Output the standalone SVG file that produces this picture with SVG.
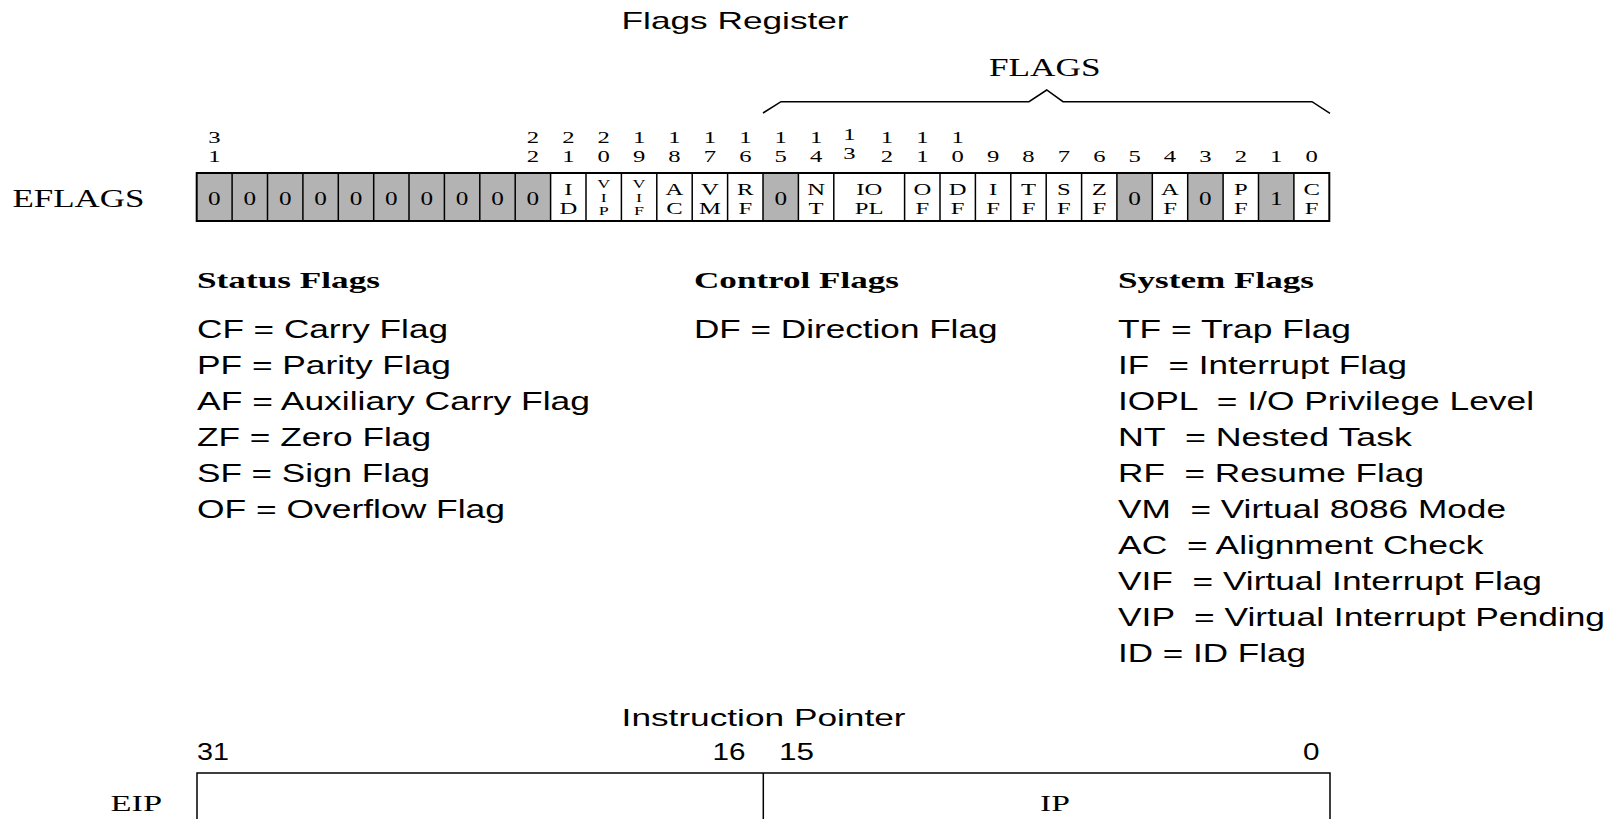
<svg xmlns="http://www.w3.org/2000/svg" width="1619" height="819" viewBox="0 0 1619 819">
<style>
.sans{font-family:"Liberation Sans",Arial,sans-serif;fill:#000}
.serif{font-family:"Liberation Serif","Times New Roman",serif;fill:#000}
.title{font-size:24px}
.list{font-size:25px;white-space:pre}
.head{font-size:24px;font-weight:bold}
.bit{font-size:17px;text-anchor:middle}
.cl{font-size:17px;text-anchor:middle}
.cs{font-size:12px;text-anchor:middle}
.zero{font-size:18px;text-anchor:middle}
.num{font-size:24px}
.gray{fill:#b3b3b3}
.div{stroke:#000;stroke-width:1.5;fill:none}
.outer{stroke:#000;stroke-width:2;fill:none}
.line{stroke:#000;stroke-width:1.5;fill:none}
</style>

<text class="sans title" x="621.6" y="29" textLength="227" lengthAdjust="spacingAndGlyphs">Flags Register</text>

<g id="flags-label">
<text class="serif" style="font-size:25px" x="989" y="76" textLength="111.5" lengthAdjust="spacingAndGlyphs">FLAGS</text>
</g>

<g id="connectors">
<path class="line" d="M763,113 L781,101.7 L1029,101.7 L1046.7,90 L1063,101.7 L1312,101.7 L1330,113.3"/>
</g>

<g id="eflags-label">
<text class="serif" style="font-size:26px" x="12.4" y="207" textLength="132" lengthAdjust="spacingAndGlyphs">EFLAGS</text>
</g>

<g id="bit-numbers" class="serif">
<text class="bit" transform="translate(214.4,142.5) scale(1.45,1)">3</text>
<text class="bit" transform="translate(214.4,161.5) scale(1.45,1)">1</text>
<text class="bit" transform="translate(532.9,142.5) scale(1.45,1)">2</text>
<text class="bit" transform="translate(532.9,161.5) scale(1.45,1)">2</text>
<text class="bit" transform="translate(568.3,142.5) scale(1.45,1)">2</text>
<text class="bit" transform="translate(568.3,161.5) scale(1.45,1)">1</text>
<text class="bit" transform="translate(603.7,142.5) scale(1.45,1)">2</text>
<text class="bit" transform="translate(603.7,161.5) scale(1.45,1)">0</text>
<text class="bit" transform="translate(639.1,142.5) scale(1.45,1)">1</text>
<text class="bit" transform="translate(639.1,161.5) scale(1.45,1)">9</text>
<text class="bit" transform="translate(674.5,142.5) scale(1.45,1)">1</text>
<text class="bit" transform="translate(674.5,161.5) scale(1.45,1)">8</text>
<text class="bit" transform="translate(709.9,142.5) scale(1.45,1)">1</text>
<text class="bit" transform="translate(709.9,161.5) scale(1.45,1)">7</text>
<text class="bit" transform="translate(745.3,142.5) scale(1.45,1)">1</text>
<text class="bit" transform="translate(745.3,161.5) scale(1.45,1)">6</text>
<text class="bit" transform="translate(780.7,142.5) scale(1.45,1)">1</text>
<text class="bit" transform="translate(780.7,161.5) scale(1.45,1)">5</text>
<text class="bit" transform="translate(816.1,142.5) scale(1.45,1)">1</text>
<text class="bit" transform="translate(816.1,161.5) scale(1.45,1)">4</text>
<text class="bit" transform="translate(849.5,140) scale(1.45,1)">1</text>
<text class="bit" transform="translate(849.5,159) scale(1.45,1)">3</text>
<text class="bit" transform="translate(886.9,142.5) scale(1.45,1)">1</text>
<text class="bit" transform="translate(886.9,161.5) scale(1.45,1)">2</text>
<text class="bit" transform="translate(922.3,142.5) scale(1.45,1)">1</text>
<text class="bit" transform="translate(922.3,161.5) scale(1.45,1)">1</text>
<text class="bit" transform="translate(957.7,142.5) scale(1.45,1)">1</text>
<text class="bit" transform="translate(957.7,161.5) scale(1.45,1)">0</text>
<text class="bit" transform="translate(993.1,161.5) scale(1.45,1)">9</text>
<text class="bit" transform="translate(1028.5,161.5) scale(1.45,1)">8</text>
<text class="bit" transform="translate(1063.9,161.5) scale(1.45,1)">7</text>
<text class="bit" transform="translate(1099.3,161.5) scale(1.45,1)">6</text>
<text class="bit" transform="translate(1134.6,161.5) scale(1.45,1)">5</text>
<text class="bit" transform="translate(1170,161.5) scale(1.45,1)">4</text>
<text class="bit" transform="translate(1205.4,161.5) scale(1.45,1)">3</text>
<text class="bit" transform="translate(1240.8,161.5) scale(1.45,1)">2</text>
<text class="bit" transform="translate(1276.2,161.5) scale(1.45,1)">1</text>
<text class="bit" transform="translate(1311.6,161.5) scale(1.45,1)">0</text>
</g>

<g id="eflags-register">
<g id="reserved-31-22">
<rect class="gray" x="196.7" y="173" width="354" height="48"/>
</g>
<rect id="reserved-15" class="gray" x="763" y="173" width="35.4" height="48"/>
<rect id="reserved-5" class="gray" x="1116.9" y="173" width="35.4" height="48"/>
<rect id="reserved-3" class="gray" x="1187.7" y="173" width="35.4" height="48"/>
<rect id="reserved-1" class="gray" x="1258.5" y="173" width="35.4" height="48"/>
<path class="div" d="M232.1,173V221M267.5,173V221M302.9,173V221M338.3,173V221M373.7,173V221M409,173V221M444.4,173V221M479.8,173V221M515.2,173V221M550.6,173V221M586,173V221M621.4,173V221M656.8,173V221M692.2,173V221M727.6,173V221M763,173V221M798.4,173V221M833.8,173V221M904.6,173V221M940,173V221M975.4,173V221M1010.8,173V221M1046.2,173V221M1081.6,173V221M1116.9,173V221M1152.3,173V221M1187.7,173V221M1223.1,173V221M1258.5,173V221M1293.9,173V221"/>
<rect class="outer" x="196.7" y="173" width="1132.6" height="48"/>
<g class="serif">
<text class="zero" transform="translate(214.4,205) scale(1.4,1)">0</text>
<text class="zero" transform="translate(249.8,205) scale(1.4,1)">0</text>
<text class="zero" transform="translate(285.2,205) scale(1.4,1)">0</text>
<text class="zero" transform="translate(320.6,205) scale(1.4,1)">0</text>
<text class="zero" transform="translate(356,205) scale(1.4,1)">0</text>
<text class="zero" transform="translate(391.4,205) scale(1.4,1)">0</text>
<text class="zero" transform="translate(426.7,205) scale(1.4,1)">0</text>
<text class="zero" transform="translate(462.1,205) scale(1.4,1)">0</text>
<text class="zero" transform="translate(497.5,205) scale(1.4,1)">0</text>
<text class="zero" transform="translate(532.9,205) scale(1.4,1)">0</text>
</g>
<g id="cell-ID" class="serif"><text class="cl" transform="translate(568.3,194.5) scale(1.45,1)">I</text><text class="cl" transform="translate(568.3,214) scale(1.45,1)">D</text></g>
<g id="cell-VIP" class="serif"><text class="cs" transform="translate(603.7,188) scale(1.5,1)">V</text><text class="cs" transform="translate(603.7,201.5) scale(1.5,1)">I</text><text class="cs" transform="translate(603.7,215) scale(1.5,1)">P</text></g>
<g id="cell-VIF" class="serif"><text class="cs" transform="translate(639.1,188) scale(1.5,1)">V</text><text class="cs" transform="translate(639.1,201.5) scale(1.5,1)">I</text><text class="cs" transform="translate(639.1,215) scale(1.5,1)">F</text></g>
<g id="cell-AC" class="serif"><text class="cl" transform="translate(674.5,194.5) scale(1.45,1)">A</text><text class="cl" transform="translate(674.5,214) scale(1.45,1)">C</text></g>
<g id="cell-VM" class="serif"><text class="cl" transform="translate(709.9,194.5) scale(1.45,1)">V</text><text class="cl" transform="translate(709.9,214) scale(1.45,1)">M</text></g>
<g id="cell-RF" class="serif"><text class="cl" transform="translate(745.3,194.5) scale(1.45,1)">R</text><text class="cl" transform="translate(745.3,214) scale(1.45,1)">F</text></g>
<g id="cell-15" class="serif"><text class="zero" transform="translate(780.7,205) scale(1.4,1)">0</text></g>
<g id="cell-NT" class="serif"><text class="cl" transform="translate(816.1,194.5) scale(1.45,1)">N</text><text class="cl" transform="translate(816.1,214) scale(1.45,1)">T</text></g>
<g id="cell-IOPL" class="serif"><text class="cl" transform="translate(869.2,194.5) scale(1.45,1)">IO</text><text class="cl" transform="translate(869.2,214) scale(1.45,1)">PL</text></g>
<g id="cell-OF" class="serif"><text class="cl" transform="translate(922.3,194.5) scale(1.45,1)">O</text><text class="cl" transform="translate(922.3,214) scale(1.45,1)">F</text></g>
<g id="cell-DF" class="serif"><text class="cl" transform="translate(957.7,194.5) scale(1.45,1)">D</text><text class="cl" transform="translate(957.7,214) scale(1.45,1)">F</text></g>
<g id="cell-IF" class="serif"><text class="cl" transform="translate(993.1,194.5) scale(1.45,1)">I</text><text class="cl" transform="translate(993.1,214) scale(1.45,1)">F</text></g>
<g id="cell-TF" class="serif"><text class="cl" transform="translate(1028.5,194.5) scale(1.45,1)">T</text><text class="cl" transform="translate(1028.5,214) scale(1.45,1)">F</text></g>
<g id="cell-SF" class="serif"><text class="cl" transform="translate(1063.9,194.5) scale(1.45,1)">S</text><text class="cl" transform="translate(1063.9,214) scale(1.45,1)">F</text></g>
<g id="cell-ZF" class="serif"><text class="cl" transform="translate(1099.3,194.5) scale(1.45,1)">Z</text><text class="cl" transform="translate(1099.3,214) scale(1.45,1)">F</text></g>
<g id="cell-5" class="serif"><text class="zero" transform="translate(1134.6,205) scale(1.4,1)">0</text></g>
<g id="cell-AF" class="serif"><text class="cl" transform="translate(1170,194.5) scale(1.45,1)">A</text><text class="cl" transform="translate(1170,214) scale(1.45,1)">F</text></g>
<g id="cell-3" class="serif"><text class="zero" transform="translate(1205.4,205) scale(1.4,1)">0</text></g>
<g id="cell-PF" class="serif"><text class="cl" transform="translate(1240.8,194.5) scale(1.45,1)">P</text><text class="cl" transform="translate(1240.8,214) scale(1.45,1)">F</text></g>
<g id="cell-1" class="serif"><text class="zero" transform="translate(1276.2,205) scale(1.4,1)">1</text></g>
<g id="cell-CF" class="serif"><text class="cl" transform="translate(1311.6,194.5) scale(1.45,1)">C</text><text class="cl" transform="translate(1311.6,214) scale(1.45,1)">F</text></g>
</g>

<g id="status-flags">
<text class="serif head" x="197" y="288" textLength="183" lengthAdjust="spacingAndGlyphs">Status Flags</text>
<text class="sans list" x="197" y="337.6" textLength="251" lengthAdjust="spacingAndGlyphs">CF = Carry Flag</text>
<text class="sans list" x="197" y="373.6" textLength="254" lengthAdjust="spacingAndGlyphs">PF = Parity Flag</text>
<text class="sans list" x="197" y="409.7" textLength="393" lengthAdjust="spacingAndGlyphs">AF = Auxiliary Carry Flag</text>
<text class="sans list" x="197" y="445.7" textLength="234" lengthAdjust="spacingAndGlyphs">ZF = Zero Flag</text>
<text class="sans list" x="197" y="481.8" textLength="233" lengthAdjust="spacingAndGlyphs">SF = Sign Flag</text>
<text class="sans list" x="197" y="517.8" textLength="308" lengthAdjust="spacingAndGlyphs">OF = Overflow Flag</text>
</g>

<g id="control-flags">
<text class="serif head" x="694" y="288" textLength="205" lengthAdjust="spacingAndGlyphs">Control Flags</text>
<text class="sans list" x="694" y="337.6" textLength="303.5" lengthAdjust="spacingAndGlyphs">DF = Direction Flag</text>
</g>

<g id="system-flags">
<text class="serif head" x="1118" y="288" textLength="196" lengthAdjust="spacingAndGlyphs">System Flags</text>
<text class="sans list" x="1118" y="337.6" textLength="233" lengthAdjust="spacingAndGlyphs">TF = Trap Flag</text>
<text class="sans list" x="1118" y="373.6" textLength="289" lengthAdjust="spacingAndGlyphs">IF  = Interrupt Flag</text>
<text class="sans list" x="1118" y="409.7" textLength="416" lengthAdjust="spacingAndGlyphs">IOPL  = I/O Privilege Level</text>
<text class="sans list" x="1118" y="445.7" textLength="294" lengthAdjust="spacingAndGlyphs">NT  = Nested Task</text>
<text class="sans list" x="1118" y="481.8" textLength="306" lengthAdjust="spacingAndGlyphs">RF  = Resume Flag</text>
<text class="sans list" x="1118" y="517.8" textLength="388" lengthAdjust="spacingAndGlyphs">VM  = Virtual 8086 Mode</text>
<text class="sans list" x="1118" y="553.8" textLength="365.5" lengthAdjust="spacingAndGlyphs">AC  = Alignment Check</text>
<text class="sans list" x="1118" y="589.9" textLength="424" lengthAdjust="spacingAndGlyphs">VIF  = Virtual Interrupt Flag</text>
<text class="sans list" x="1118" y="625.9" textLength="487" lengthAdjust="spacingAndGlyphs">VIP  = Virtual Interrupt Pending</text>
<text class="sans list" x="1118" y="662" textLength="188" lengthAdjust="spacingAndGlyphs">ID = ID Flag</text>
</g>

<text class="sans title" x="621.6" y="725.5" textLength="284" lengthAdjust="spacingAndGlyphs">Instruction Pointer</text>

<g id="eip-register">
<text class="sans num" x="197" y="760" textLength="32" lengthAdjust="spacingAndGlyphs">31</text>
<text class="sans num" x="712.5" y="760" textLength="33" lengthAdjust="spacingAndGlyphs">16</text>
<text class="sans num" x="779" y="760" textLength="35" lengthAdjust="spacingAndGlyphs">15</text>
<text class="sans num" x="1303" y="760" textLength="16.5" lengthAdjust="spacingAndGlyphs">0</text>
<path class="line" d="M197,819V773H1330V819M763.3,773V819"/>
<text class="serif" style="font-size:24px" x="110.5" y="811" textLength="51.5" lengthAdjust="spacingAndGlyphs">EIP</text>
<g id="cell-IP"><text class="serif" style="font-size:24px;text-anchor:middle" transform="translate(1055,811) scale(1.4,1)">IP</text></g>
</g>
</svg>
